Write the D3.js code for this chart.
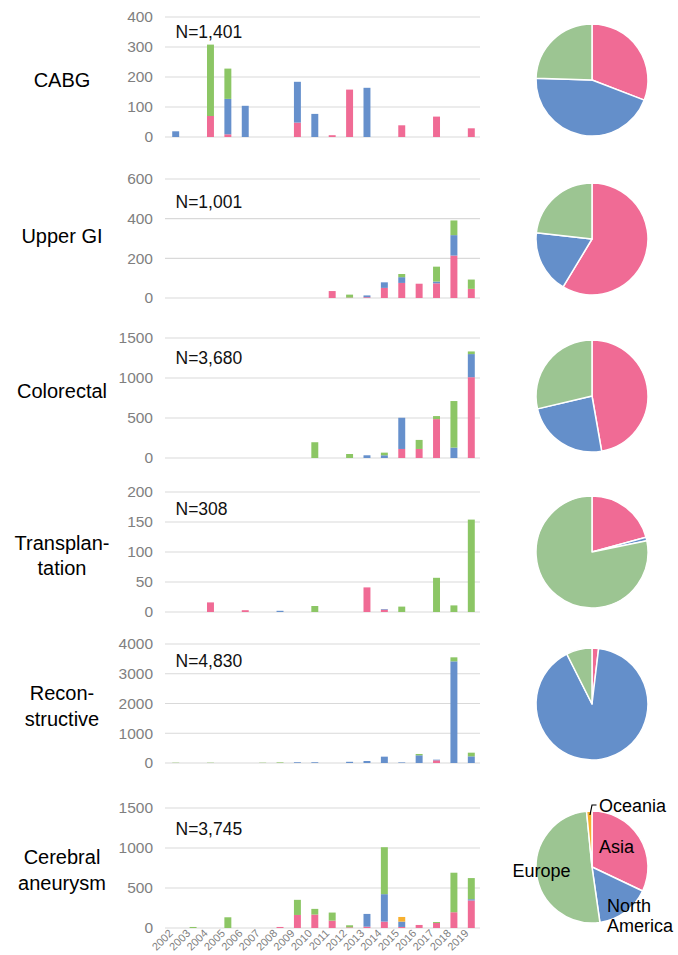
<!DOCTYPE html>
<html>
<head>
<meta charset="utf-8">
<script src="https://cdn.jsdelivr.net/npm/d3@7/dist/d3.min.js"></script>
<style>
  html, body { margin: 0; padding: 0; background: #fff; }
  svg { display: block; font-family: "Liberation Sans", Arial, sans-serif; }
</style>
</head>
<body>
<svg id="chart" width="678" height="955"></svg>
<script>
// ---------- DATA ----------
const years = ["2002","2003","2004","2005","2006","2007","2008","2009","2010","2011","2012","2013","2014","2015","2016","2017","2018","2019"];
const regions = ["Asia", "North America", "Europe", "Oceania"];
const panelNames = [["CABG"], ["Upper GI"], ["Colorectal"], ["Transplan-", "tation"], ["Recon-", "structive"], ["Cerebral", "aneurysm"]];
const totals = ["N=1,401", "N=1,001", "N=3,680", "N=308", "N=4,830", "N=3,745"];
const yTicks = [[0,100,200,300,400],[0,200,400,600],[0,500,1000,1500],[0,50,100,150,200],[0,1000,2000,3000,4000],[0,500,1000,1500]];

//                 2002 03  04   05   06   07 08  09   10   11  12   13   14   15   16   17   18    19
const cabgAsia    = [0,  0,  70,  9,   0,   0, 0, 48,  0,   6,  158, 0,   0,   39,  0,   68,  0,    29];
const cabgNA      = [19, 0,  0,   118, 104, 0, 0, 136, 77,  0,  0,   164, 0,   0,   0,   0,   0,    0];
const cabgEU      = [0,  0,  238, 101, 0,   0, 0, 0,   0,   0,  0,   0,   0,   0,   0,   0,   0,    0];
const cabgOC      = [0,  0,  0,   0,   0,   0, 0, 0,   0,   0,  0,   0,   0,   0,   0,   0,   0,    0];

const ugiAsia     = [0,0,0,0,0,0,0,0,0, 35, 2,  4,  51, 76, 72, 74, 214, 46];
const ugiNA       = [0,0,0,0,0,0,0,0,0, 0,  0,  9,  28, 29, 0,  9,  103, 0];
const ugiEU       = [0,0,0,0,0,0,0,0,0, 0,  15, 0,  0,  16, 0,  75, 74,  47];
const ugiOC       = [0,0,0,0,0,0,0,0,0, 0,  0,  0,  0,  0,  0,  0,  0,   0];

const crcAsia     = [0,0,0,0,0,0,0,0,0,   0, 0,  0,  0,  113, 113, 486, 0,   1010];
const crcNA       = [0,0,0,0,0,0,0,0,0,   0, 0,  34, 34, 390, 0,   0,   130, 289];
const crcEU       = [0,0,0,0,0,0,0,0,197, 0, 50, 0,  33, 0,   113, 38,  582, 33];
const crcOC       = [0,0,0,0,0,0,0,0,0,   0, 0,  0,  0,  0,   0,   0,   0,   0];

const txAsia      = [0,0,16,0,3,0,0,0,0, 0,0,41,4,0,0,0, 0, 0];
const txNA        = [0,0,0, 0,0,0,2,0,0, 0,0,0, 1,0,0,0, 0, 0];
const txEU        = [0,0,0, 0,0,0,0,0,10,0,0,0, 0,9,0,57,11,154];
const txOC        = [0,0,0, 0,0,0,0,0,0, 0,0,0, 0,0,0,0, 0, 0];

const recAsia     = [0, 0,0, 0,0,0, 0, 0, 0, 0,0, 0, 0,  0, 0,  90, 0,    0];
const recNA       = [0, 0,0, 0,0,0, 0, 25,25,0,40,67,213,20,258,22, 3417, 224];
const recEU       = [10,0,10,0,0,10,20,0, 0, 0,0, 0, 0,  0, 45, 0,  135,  123];
const recOC       = [0, 0,0, 0,0,0, 0, 0, 0, 0,0, 0, 0,  0, 0,  0,  0,    0];

const cerAsia     = [0,0, 0,0,  0,0,13,163,168,92, 8, 17, 80, 13,38,63,197,344];
const cerNA       = [0,0, 0,0,  0,0,0, 0,  0,  0,  0, 159,343,67,0, 0, 0,  16];
const cerEU       = [0,13,0,134,0,0,0, 189,71, 101,26,0,  587,0, 0, 12,494,264];
const cerOC       = [0,0, 0,0,  0,0,0, 0,  0,  0,  0, 0,  0,  58,0, 0, 0,  0];

const panelSeries = [
  [cabgAsia, cabgNA, cabgEU, cabgOC],
  [ugiAsia, ugiNA, ugiEU, ugiOC],
  [crcAsia, crcNA, crcEU, crcOC],
  [txAsia, txNA, txEU, txOC],
  [recAsia, recNA, recEU, recOC],
  [cerAsia, cerNA, cerEU, cerOC]
];

// ---------- STYLE / LAYOUT ----------
const barColors = ["#F06B95", "#6690CC", "#8CC665", "#F7B02F"];
const pieColors = ["#F06B95", "#648FCA", "#9CC592", "#F7B02F"];
const panelTop = [17, 179, 338, 492, 644, 808];
const panelBottom = [137, 298, 458, 612, 763, 928];
const nLabelDy = [21, 29, 26, 23, 23, 27];
const nameBaselines = [[87], [243], [398], [550, 575], [700, 726], [864, 890]];
const pieCY = [80, 239, 396, 552, 704, 867];
const plotLeft = 165, plotRight = 480;

const svg = d3.select("#chart");

const x = d3.scaleBand().domain(years).range([167, 480]).paddingInner(0.6).paddingOuter(0.3);

panelSeries.forEach((series, p) => {
  const g = svg.append("g");
  const maxY = yTicks[p][yTicks[p].length - 1];
  const y = d3.scaleLinear().domain([0, maxY]).range([panelBottom[p], panelTop[p]]);

  // gridlines
  g.selectAll("line.grid").data(yTicks[p]).join("line")
    .attr("x1", plotLeft).attr("x2", plotRight)
    .attr("y1", d => y(d)).attr("y2", d => y(d))
    .attr("stroke", "#d9d9d9").attr("stroke-width", 1.2);

  // y axis labels
  const yAxis = d3.axisLeft(y).tickValues(yTicks[p]).tickFormat(d3.format("d")).tickSize(0).tickPadding(0);
  const ax = g.append("g").attr("transform", "translate(153,0)").call(yAxis);
  ax.select(".domain").remove();
  ax.selectAll("text").attr("fill", "#7f7f7f").style("font-size", "15.5px")
    .style("font-family", "'Liberation Sans', Arial, sans-serif");

  // stacked bars
  const rows = years.map((yr, i) => {
    const o = { year: yr };
    regions.forEach((r, k) => o[r] = series[k][i]);
    return o;
  });
  const stack = d3.stack().keys(regions)(rows);
  stack.forEach((layer, k) => {
    g.append("g").attr("fill", barColors[k])
      .selectAll("rect").data(layer.filter(d => d[1] - d[0] > 0)).join("rect")
      .attr("x", d => x(d.data.year))
      .attr("width", x.bandwidth())
      .attr("y", d => y(d[1]))
      .attr("height", d => y(d[0]) - y(d[1]));
  });

  // N label
  g.append("text").attr("x", 175.5).attr("y", panelTop[p] + nLabelDy[p])
    .attr("fill", "#111").style("font-size", "17.5px").text(totals[p]);

  // panel name
  panelNames[p].forEach((line, li) => {
    g.append("text").attr("x", 62).attr("y", nameBaselines[p][li])
      .attr("text-anchor", "middle").attr("fill", "#000")
      .style("font-size", "20px").text(line);
  });

  // pie
  const sums = series.map(s => d3.sum(s));
  const pie = d3.pie().sort(null).value(d => d)(sums);
  const arc = d3.arc().innerRadius(0).outerRadius(56);
  const pg = g.append("g").attr("transform", `translate(592,${pieCY[p]})`);
  pg.selectAll("path").data(pie.filter(d => d.value > 0)).join("path")
    .attr("d", arc).attr("fill", d => pieColors[d.index])
    .attr("stroke", "#fff").attr("stroke-width", 1.5).attr("stroke-linejoin", "round");

  if (p === 5) {
    // region labels on last pie
    const lab = (t, dx, dy) => pg.append("text").attr("x", dx).attr("y", dy)
      .attr("fill", "#000").style("font-size", "18px").text(t);
    lab("Asia", 7, -14.5);
    lab("Europe", -79.5, 10);
    lab("North", 15, 45);
    lab("America", 15, 64.5);
    lab("Oceania", 7, -55);
    pg.append("path").attr("d", "M-2,-52 L0,-62 L4.5,-62")
      .attr("fill", "none").attr("stroke", "#000").attr("stroke-width", 1.2);

    // x axis labels
    const xa = d3.axisBottom(x).tickSize(0).tickPadding(0);
    const xg = g.append("g").attr("transform", `translate(0,${panelBottom[p]})`).call(xa);
    xg.select(".domain").remove();
    xg.selectAll("text")
      .attr("fill", "#7f7f7f").style("font-size", "11px")
      .style("font-family", "'Liberation Sans', Arial, sans-serif")
      .attr("text-anchor", "end").attr("dy", null).attr("y", 0)
      .attr("transform", "translate(-2,6) rotate(-45)");
  }
});
</script>
</body>
</html>
